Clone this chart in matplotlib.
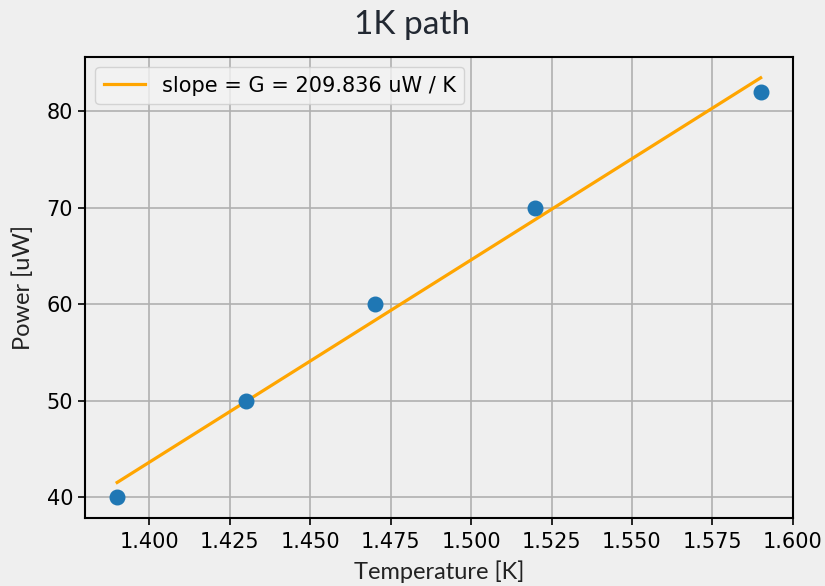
import matplotlib
matplotlib.use("Agg")
import matplotlib.pyplot as plt
import numpy as np

temperature = [1.39, 1.43, 1.47, 1.52, 1.59]
power = [40, 50, 60, 70, 82]

# linear fit through the points
slope, intercept = np.polyfit(temperature, power, 1)
t = np.array(temperature)

fig = plt.figure(figsize=(8.25, 5.86), dpi=100, facecolor="#efefef")
ax = fig.add_axes([0.103, 0.116, 0.858, 0.787])
ax.set_facecolor("#efefef")

ax.scatter(temperature, power, s=110, color="#1f77b4", zorder=3)
ax.plot([t.min(), t.max()], [slope * t.min() + intercept, slope * t.max() + intercept],
        color="orange", lw=2.3, label="slope = G = %.3f uW / K" % slope, zorder=2)

ticks = np.arange(1.400, 1.6001, 0.025)
ax.set_xticks(ticks)
ax.set_xticklabels(["%.3f" % v for v in ticks])
ax.tick_params(labelsize=15, length=5, width=1.2)
ax.tick_params(axis="x", pad=5)
for s in ax.spines.values():
    s.set_linewidth(1.5)
ax.grid(True, color="#b0b0b0", lw=1.2)
ax.set_axisbelow(True)

ax.set_xlabel("Temperature [K]", fontsize=17, family="Lato", color="#222222", labelpad=6)
ax.set_ylabel("Power [uW]", fontsize=17, family="Lato", color="#222222", labelpad=9)
fig.suptitle("1K path", fontsize=24, family="Lato", color="#222832", y=0.983, va="top")

ax.legend(loc="upper left", fontsize=15, facecolor="#f3f3f3")

fig.savefig("out.png", dpi=100, facecolor=fig.get_facecolor())
